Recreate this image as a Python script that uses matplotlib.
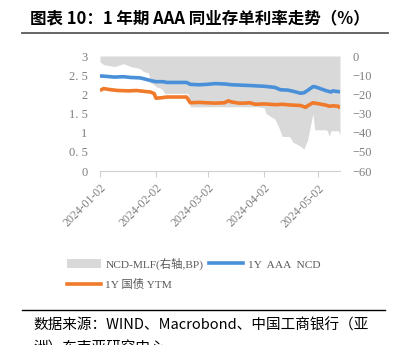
# -*- coding:utf8 -*-
import numpy as np
import pandas as pd
import matplotlib
matplotlib.use('Agg')
import matplotlib.pyplot as plt
from matplotlib.lines import Line2D
from matplotlib.patches import Patch

# 1Y AAA NCD / 1Y government bond / NCD-MLF spread, 2024-01 .. 2024-05
ncd_dates = ['2024-01-02', '2024-01-05', '2024-01-10', '2024-01-15', '2024-01-19',
             '2024-01-24', '2024-01-26', '2024-01-30', '2024-02-02', '2024-02-06',
             '2024-02-08', '2024-02-19', '2024-02-21', '2024-02-26', '2024-03-01',
             '2024-03-06', '2024-03-11', '2024-03-15', '2024-03-20', '2024-03-25',
             '2024-03-29', '2024-04-02', '2024-04-08', '2024-04-11', '2024-04-15',
             '2024-04-18', '2024-04-22', '2024-04-24', '2024-04-26', '2024-04-29',
             '2024-04-30', '2024-05-06', '2024-05-09', '2024-05-10', '2024-05-13',
             '2024-05-14']
ncd_1y = [2.48, 2.47, 2.45, 2.46, 2.44, 2.43, 2.41, 2.36, 2.33, 2.33,
          2.31, 2.31, 2.26, 2.25, 2.26, 2.28, 2.27, 2.25, 2.24, 2.23,
          2.22, 2.21, 2.18, 2.12, 2.11, 2.08, 2.03, 2.04, 2.10, 2.20,
          2.20, 2.10, 2.06, 2.09, 2.07, 2.07]

gov_dates = ['2024-01-02', '2024-01-04', '2024-01-08', '2024-01-12', '2024-01-18',
             '2024-01-22', '2024-01-26', '2024-01-30', '2024-02-01', '2024-02-02',
             '2024-02-05', '2024-02-08', '2024-02-19', '2024-02-21', '2024-02-26',
             '2024-03-01', '2024-03-06', '2024-03-11', '2024-03-13', '2024-03-15',
             '2024-03-19', '2024-03-22', '2024-03-25', '2024-03-28', '2024-04-02',
             '2024-04-08', '2024-04-12', '2024-04-17', '2024-04-22', '2024-04-25',
             '2024-04-26', '2024-04-29', '2024-05-06', '2024-05-08', '2024-05-10',
             '2024-05-13', '2024-05-14']
gov_1y = [2.10, 2.15, 2.12, 2.10, 2.09, 2.10, 2.08, 2.06, 2.02, 1.90,
          1.91, 1.93, 1.93, 1.78, 1.79, 1.78, 1.77, 1.78, 1.83, 1.80,
          1.77, 1.77, 1.78, 1.74, 1.75, 1.73, 1.74, 1.72, 1.71, 1.66,
          1.70, 1.78, 1.72, 1.69, 1.70, 1.69, 1.64]

spread_dates = ['2024-01-02', '2024-01-04', '2024-01-10', '2024-01-15', '2024-01-19',
                '2024-01-24', '2024-01-26', '2024-01-29', '2024-01-30', '2024-02-01',
                '2024-02-02', '2024-02-05', '2024-02-07', '2024-02-19', '2024-02-20',
                '2024-02-21', '2024-03-29', '2024-04-02', '2024-04-03', '2024-04-08',
                '2024-04-10', '2024-04-12', '2024-04-16', '2024-04-18', '2024-04-22',
                '2024-04-24', '2024-04-26', '2024-04-29', '2024-04-30', '2024-05-06',
                '2024-05-07', '2024-05-08', '2024-05-09', '2024-05-13', '2024-05-14']
ncd_mlf = [-3, -4.5, -5.5, -4, -5.5, -6.5, -8, -9, -14, -15,
           -16, -17, -19.5, -19.5, -20, -26.5, -26.5, -27, -30, -33,
           -37, -42, -42, -45, -47, -48.5, -44, -30, -38.5, -38.5,
           -39, -42, -39, -39, -41]

left_ticks = [0, 0.5, 1, 1.5, 2, 2.5, 3]
left_labels = ['0', '0. 5', '1', '1. 5', '2', '2. 5', '3']
right_ticks = [0, -10, -20, -30, -40, -50, -60]
date_ticks = ['2024-01-02', '2024-02-02', '2024-03-02', '2024-04-02', '2024-05-02']

BLUE = '#4a90d9'
ORANGE = '#f07a2a'
FILL = '#d9d9d9'
TICK = '#7f7f7f'
SERIF = ['Liberation Serif', 'Noto Sans CJK SC']
SANS = ['Noto Sans CJK SC', 'DejaVu Sans']

W, H = 395, 345
fig = plt.figure(figsize=(W / 100, H / 100), dpi=100)
fig.patch.set_facecolor('white')

ax = fig.add_axes([100 / W, 1 - 171 / H, 240 / W, 115 / H])
ax2 = ax.twinx()

# spread area on the right axis, behind the rate lines
sd = pd.to_datetime(spread_dates)
ax2.fill_between(sd, 0, ncd_mlf, color=FILL, lw=0, zorder=1)
ax2.set_ylim(-60, 0)
ax2.set_yticks(right_ticks)
ax2.set_yticklabels(['0' if t == 0 else '\u2212%d' % -t for t in right_ticks])

ax.set_zorder(ax2.get_zorder() + 1)
ax.patch.set_visible(False)
ax.plot(pd.to_datetime(ncd_dates), ncd_1y, color=BLUE, lw=2.6, solid_capstyle='butt')
ax.plot(pd.to_datetime(gov_dates), gov_1y, color=ORANGE, lw=2.6, solid_capstyle='butt')
ax.set_ylim(0, 3)
ax.set_yticks(left_ticks)
ax.set_yticklabels(left_labels)
ax.set_xlim(pd.Timestamp('2024-01-02'), pd.Timestamp('2024-05-14'))
ax.set_xticks(pd.to_datetime(date_ticks))
ax.set_xticklabels(date_ticks, rotation=45, ha='right', va='top', rotation_mode='anchor')

for a in (ax, ax2):
    for s in ('top', 'left', 'right', 'bottom'):
        a.spines[s].set_visible(False)
ax.spines['bottom'].set_visible(True)
ax.spines['bottom'].set_color('#d0d0d0')
ax.tick_params(axis='y', length=0, pad=9, labelcolor=TICK, labelsize=9)
ax.tick_params(axis='x', length=4, color='#d0d0d0', pad=4, labelcolor=TICK, labelsize=8.5)
ax2.tick_params(axis='y', length=0, pad=9, labelcolor=TICK, labelsize=9)
for lab in ax.get_xticklabels() + ax.get_yticklabels() + ax2.get_yticklabels():
    lab.set_family(SERIF)

# legend: two columns, gray / orange on the left, blue on the right
handles = [Patch(facecolor=FILL, edgecolor='none'),
           Line2D([], [], color=ORANGE, lw=2.6),
           Line2D([], [], color=BLUE, lw=2.6)]
labels = ['NCD-MLF(右轴,BP)', '1Y 国债 YTM', '1Y  AAA  NCD']
leg = fig.legend(handles, labels, ncol=2, loc='upper left',
                 bbox_to_anchor=(62 / W, 1 - 253 / H), frameon=False,
                 prop={'family': SERIF, 'size': 8.2}, labelcolor='#595959',
                 handlelength=3.0, handleheight=0.9, handletextpad=0.4,
                 columnspacing=0.5, labelspacing=0.8, borderaxespad=0)

# title with rule underneath
fig.text(30 / W, 1 - 18 / H, '图表 10：1 年期 AAA 同业存单利率走势（%）',
         family=SANS, fontsize=11.9, fontweight='bold', color='black',
         ha='left', va='center')
fig.add_artist(Line2D([22 / W, 388 / W], [1 - 33 / H] * 2, color='#595959', lw=1.3))

# source note
fig.add_artist(Line2D([22 / W, 385 / W], [1 - 310 / H] * 2, color='black', lw=1.0))
fig.text(33 / W, 1 - 325 / H, '数据来源：WIND、Macrobond、中国工商银行（亚',
         family=SANS, fontsize=10.5, style='italic', color='black',
         ha='left', va='center')
fig.text(33 / W, 1 - 349 / H, '洲）东南亚研究中心',
         family=SANS, fontsize=10.5, style='italic', color='black',
         ha='left', va='center')

fig.savefig('out.png', dpi=100)
